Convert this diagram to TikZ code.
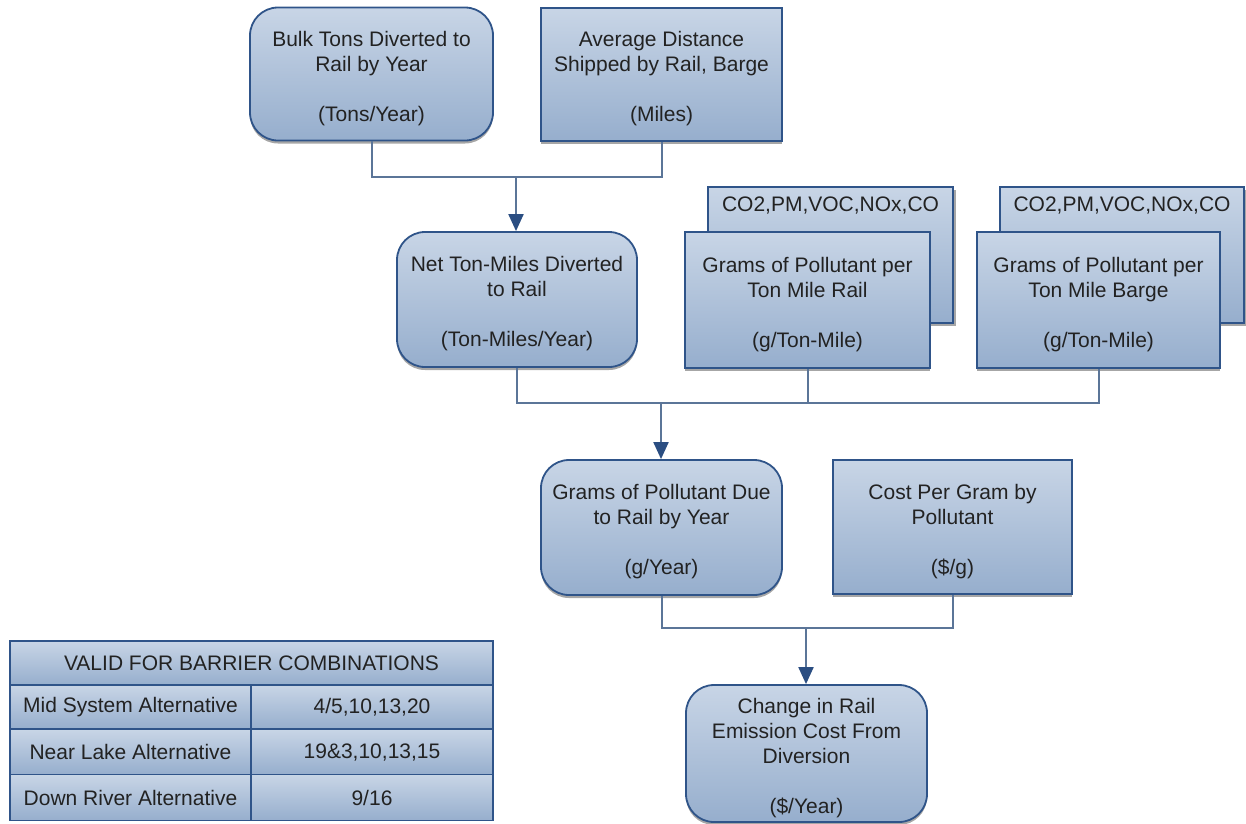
\documentclass[tikz,border=0pt]{standalone}
\usepackage{fontspec}
\setmainfont{Liberation Sans}
\usetikzlibrary{arrows.meta,shadows}
\definecolor{boxtop}{HTML}{C8D5E6}
\definecolor{boxbot}{HTML}{96AECD}
\definecolor{edge}{HTML}{2F5489}
\definecolor{conn}{HTML}{5B7598}
\definecolor{arrowc}{HTML}{2B4E82}
\definecolor{txt}{HTML}{222222}
\newcommand{\toppad}{\rule{0pt}{24pt}}
\tikzset{
  base/.style={draw=edge, line width=1.8pt, top color=boxtop, bottom color=boxbot,
    text=txt, align=center, inner sep=0pt, font=\fontsize{21}{25}\selectfont,
    drop shadow={shadow xshift=0pt, shadow yshift=-3pt, fill=black!35, opacity=1}},
  rbox/.style={base, rounded corners=28pt},
  sbox/.style={base},
  backbox/.style={base, drop shadow={shadow xshift=3pt, shadow yshift=-3pt, fill=black!35, opacity=1},
    text height=24pt, text depth=112pt},
  cell/.style={draw=edge, line width=1.5pt, top color=boxtop, bottom color=boxbot,
    text=txt, inner sep=0pt, font=\fontsize{21}{25}\selectfont},
  link/.style={draw=conn, line width=2pt},
  arr/.style={link, -{Triangle[length=17pt,width=15pt,color=arrowc]}}
}
\begin{document}
\begin{tikzpicture}[x=1pt,y=-1pt]
\useasboundingbox (0,0) rectangle (1246,823);

% top row
\node[rbox, minimum width=243pt, minimum height=133pt] (bulk) at (371.5,74)
  {\toppad Bulk Tons Diverted to\\Rail by Year\\[25pt](Tons/Year)};
\node[sbox, minimum width=241pt, minimum height=133pt] (avg) at (661.5,74.5)
  {\toppad Average Distance\\Shipped by Rail, Barge\\[25pt](Miles)};

% second row
\node[rbox, minimum width=240pt, minimum height=135pt] (net) at (517,299.5)
  {\toppad Net Ton-Miles Diverted\\to Rail\\[25pt](Ton-Miles/Year)};
\node[backbox, minimum width=245pt] (railback) at (830.5,255) {CO2,PM,VOC,NOx,CO};
\node[sbox, minimum width=245pt, minimum height=136pt] (rail) at (807.5,300)
  {\toppad Grams of Pollutant per\\Ton Mile Rail\\[25pt](g/Ton-Mile)};
\node[backbox, minimum width=244pt] (bargeback) at (1122,255) {CO2,PM,VOC,NOx,CO};
\node[sbox, minimum width=243pt, minimum height=136pt] (barge) at (1098.5,300)
  {\toppad Grams of Pollutant per\\Ton Mile Barge\\[25pt](g/Ton-Mile)};

% third row
\node[rbox, minimum width=241pt, minimum height=135pt] (grams) at (661.5,527.5)
  {\toppad Grams of Pollutant Due\\to Rail by Year\\[25pt](g/Year)};
\node[sbox, minimum width=239pt, minimum height=134pt] (cost) at (952.5,527)
  {\toppad Cost Per Gram by\\Pollutant\\[25pt](\$/g)};

% bottom
\node[rbox, minimum width=241pt, minimum height=137pt] (change) at (806.5,753.5)
  {\toppad Change in Rail\\Emission Cost From\\Diversion\\[25pt](\$/Year)};

% table
\node[cell, minimum width=483pt, minimum height=44pt] (thead) at (251.5,663)
  {VALID FOR BARRIER COMBINATIONS};
\node[cell, minimum width=241pt, minimum height=44pt] (r1a) at (130.5,707) {Mid System Alternative};
\node[cell, minimum width=242pt, minimum height=44pt] (r1b) at (372,707) {4/5,10,13,20};
\node[cell, minimum width=241pt, minimum height=45pt] (r2a) at (130.5,752) {Near Lake Alternative};
\node[cell, minimum width=242pt, minimum height=45pt] (r2b) at (372,752) {19\&3,10,13,15};
\node[cell, minimum width=241pt, minimum height=46pt] (r3a) at (130.5,797.5) {Down River Alternative};
\node[cell, minimum width=242pt, minimum height=46pt] (r3b) at (372,797.5) {9/16};

% connectors level 1
\coordinate (j1) at (516,177);
\draw[link] (bulk.south) -- (bulk.south |- j1) -- (avg.south |- j1) -- (avg.south);
\draw[arr] (j1) -- (net.north -| j1);

% connectors level 2
\coordinate (j2) at (661,403);
\draw[link] (net.south) -- (net.south |- j2) -- (barge.south |- j2) -- (barge.south);
\draw[link] (rail.south) -- (rail.south |- j2);
\draw[arr] (j2) -- (grams.north -| j2);

% connectors level 3
\coordinate (j3) at (806,628);
\draw[link] (grams.south) -- (grams.south |- j3) -- (cost.south |- j3) -- (cost.south);
\draw[arr] (j3) -- (change.north -| j3);
\end{tikzpicture}
\end{document}
